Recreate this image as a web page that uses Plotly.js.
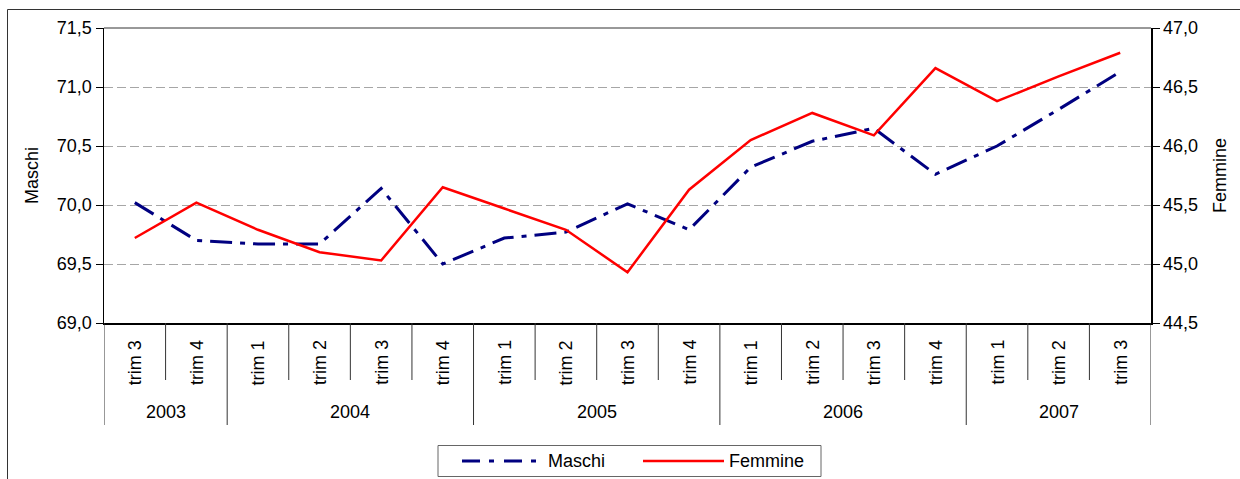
<!DOCTYPE html>
<html>
<head>
<meta charset="utf-8">
<script src="https://cdn.plot.ly/plotly-3.0.1.min.js"></script>
<style>html,body{margin:0;padding:0;background:#fff;}#chart{width:1240px;height:479px;}</style>
</head>
<body>
<div id="chart"></div>
<script>
// ---- data ----
const years    = ['2003','2003','2004','2004','2004','2004','2005','2005','2005','2005','2006','2006','2006','2006','2007','2007','2007'];
const quarters = ['trim 3','trim 4','trim 1','trim 2','trim 3','trim 4','trim 1','trim 2','trim 3','trim 4','trim 1','trim 2','trim 3','trim 4','trim 1','trim 2','trim 3'];
const maschi   = [70.02, 69.70, 69.67, 69.67, 70.14, 69.50, 69.72, 69.77, 70.01, 69.79, 70.32, 70.54, 70.65, 70.26, 70.50, 70.81, 71.13];
const femmine  = [45.22, 45.52, 45.29, 45.10, 45.03, 45.65, 45.47, 45.29, 44.93, 45.63, 46.05, 46.28, 46.09, 46.66, 46.38, 46.59, 46.79];
const seriesNames = ['Maschi', 'Femmine'];

// ---- layout helpers ----
const W = 1240, H = 479;
const M = {l: 104, r: 89, t: 28, b: 156};
const PW = W - M.l - M.r, PH = H - M.t - M.b;
const px = x => (x - M.l) / PW;      // pixel -> paper x
const py = y => (H - M.b - y) / PH;  // pixel -> paper y
const FONT = '"Liberation Sans Narrow", "Arial Narrow", "Liberation Sans", Arial, sans-serif';
const cats = years.map((y, i) => y + ' ' + quarters[i]);

const traces = [
  {x: cats, y: maschi, name: seriesNames[0], type: 'scatter', mode: 'lines',
   line: {color: '#000080', width: 3, dash: '22px,8px,5px,8px'}, yaxis: 'y'},
  {x: cats, y: femmine, name: seriesNames[1], type: 'scatter', mode: 'lines',
   line: {color: '#ff0000', width: 2.5}, yaxis: 'y2'}
];

const shapes = [];
const annotations = [];
const n = cats.length;
// category separators
for (let i = 0; i <= n; i++) {
  const edge = (i === 0 || i === n || years[i] !== years[i - 1]);
  shapes.push({type: 'line', xref: 'x', yref: 'paper', ysizemode: 'pixel', yanchor: 0,
    x0: i - 0.5, x1: i - 0.5, y0: 0, y1: edge ? -102 : -57,
    line: {color: '#333', width: 1}});
}
// quarter labels
quarters.forEach((q, i) => {
  annotations.push({x: i, xref: 'x', y: 0, yref: 'paper', yshift: -39.5, text: q,
    textangle: -90, showarrow: false, xanchor: 'center', yanchor: 'middle',
    font: {family: FONT, size: 18, color: '#000'}});
});
// year labels
let start = 0;
for (let i = 1; i <= n; i++) {
  if (i === n || years[i] !== years[start]) {
    annotations.push({x: (start + i - 1) / 2, xref: 'x', y: 0, yref: 'paper', yshift: -89,
      text: years[start], showarrow: false, xanchor: 'center', yanchor: 'middle',
      font: {family: FONT, size: 18, color: '#000'}});
    start = i;
  }
}
// plot top border
shapes.push({type: 'line', xref: 'paper', yref: 'paper', x0: 0, x1: 1, y0: 1, y1: 1,
  line: {color: '#333', width: 1}});
// outer chart border (left and top)
shapes.push({type: 'line', xref: 'paper', yref: 'paper', x0: px(7.5), x1: px(7.5), y0: py(9.5), y1: py(490),
  line: {color: '#333', width: 1}});
shapes.push({type: 'line', xref: 'paper', yref: 'paper', x0: px(7.5), x1: px(1245), y0: py(9.5), y1: py(9.5),
  line: {color: '#333', width: 1}});
// legend
shapes.push({type: 'rect', xref: 'paper', yref: 'paper', x0: px(438), x1: px(821), y0: py(445.5), y1: py(476.5),
  line: {color: '#666', width: 1}, fillcolor: 'rgba(0,0,0,0)'});
shapes.push({type: 'line', xref: 'paper', yref: 'paper', x0: px(462), x1: px(539), y0: py(461), y1: py(461),
  line: {color: '#000080', width: 3, dash: '18px,9px,5px,10px'}});
shapes.push({type: 'line', xref: 'paper', yref: 'paper', x0: px(643), x1: px(724), y0: py(461), y1: py(461),
  line: {color: '#ff0000', width: 2.5}});
annotations.push({xref: 'paper', yref: 'paper', x: px(546), y: py(461), text: seriesNames[0],
  showarrow: false, xanchor: 'left', yanchor: 'middle', font: {family: FONT, size: 18, color: '#000'}});
annotations.push({xref: 'paper', yref: 'paper', x: px(727), y: py(461), text: seriesNames[1],
  showarrow: false, xanchor: 'left', yanchor: 'middle', font: {family: FONT, size: 18, color: '#000'}});

const layout = {
  width: W, height: H,
  margin: M,
  paper_bgcolor: '#fff', plot_bgcolor: '#fff',
  separators: ',.',
  showlegend: false,
  font: {family: FONT, size: 18, color: '#000'},
  xaxis: {type: 'category', range: [-0.5, n - 0.5], showticklabels: false, ticks: '',
    showgrid: false, zeroline: false, showline: true, linecolor: '#000', linewidth: 2,
    fixedrange: true},
  yaxis: {range: [69, 71.5], dtick: 0.5, tick0: 69, tickformat: '.1f',
    ticks: 'outside', ticklen: 7, tickcolor: '#000', tickwidth: 1,
    showline: true, linecolor: '#000', linewidth: 1.5,
    showgrid: true, gridcolor: '#a6a6a6', gridwidth: 1, griddash: '9px,4px',
    zeroline: false, tickfont: {family: FONT, size: 18},
    title: {text: 'Maschi', font: {family: FONT, size: 18}, standoff: 13}},
  yaxis2: {range: [44.5, 47], dtick: 0.5, tick0: 44.5, tickformat: '.1f', overlaying: 'y', side: 'right',
    ticks: 'outside', ticklen: 7, tickcolor: '#000', tickwidth: 1,
    showline: true, linecolor: '#000', linewidth: 1.5, showgrid: false, zeroline: false,
    tickfont: {family: FONT, size: 18},
    title: {text: 'Femmine', font: {family: FONT, size: 18}, standoff: 16}},
  shapes: shapes,
  annotations: annotations
};

Plotly.newPlot('chart', traces, layout, {displayModeBar: false, staticPlot: true});
</script>
</body>
</html>
